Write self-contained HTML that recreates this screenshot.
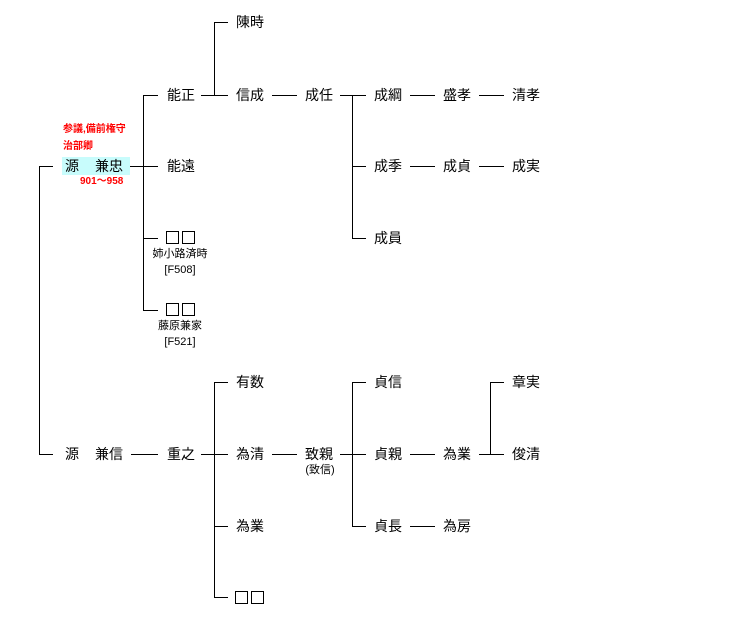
<!DOCTYPE html>
<html><head><meta charset="utf-8"><style>
body{margin:0;width:756px;height:637px;background:#fff;position:relative;overflow:hidden;font-family:"Liberation Sans","Noto Sans CJK JP",sans-serif;}
.t{position:absolute;font-size:14px;line-height:16px;white-space:nowrap;color:#000}
.s{position:absolute;font-size:11px;line-height:13px;white-space:nowrap;color:#000;text-align:center}
.r{position:absolute;font-size:10px;line-height:12px;white-space:nowrap;color:#f00;font-weight:bold}
.h{position:absolute;height:1px;background:#000}
.v{position:absolute;width:1px;background:#000}
.b{position:absolute;width:11px;height:11px;border:1px solid #000}
</style></head><body>
<div style="position:absolute;left:62px;top:157px;width:68px;height:18px;background:#c8fcfc"></div>
<div class="r" style="left:63px;top:124px">参議,備前権守</div>
<div class="r" style="left:63px;top:141px">治部卿</div>
<div class="r" style="left:80px;top:176px">901～958</div>
<div class="t" style="left:65px;top:158px">源</div><div class="t" style="left:95px;top:158px">兼忠</div>
<div class="t" style="left:65px;top:446px">源</div><div class="t" style="left:95px;top:446px">兼信</div>

<div class="t" style="left:236px;top:14px">陳時</div>
<div class="t" style="left:167px;top:87px">能正</div>
<div class="t" style="left:236px;top:87px">信成</div>
<div class="t" style="left:305px;top:87px">成任</div>
<div class="t" style="left:374px;top:87px">成綱</div>
<div class="t" style="left:443px;top:87px">盛孝</div>
<div class="t" style="left:512px;top:87px">清孝</div>
<div class="t" style="left:167px;top:158px">能遠</div>
<div class="t" style="left:374px;top:158px">成季</div>
<div class="t" style="left:443px;top:158px">成貞</div>
<div class="t" style="left:512px;top:158px">成実</div>
<div class="t" style="left:374px;top:230px">成員</div>
<div class="b" style="left:166px;top:231px"></div><div class="b" style="left:182px;top:231px"></div>
<div class="s" style="left:140px;top:248px;width:80px">姉小路済時</div>
<div class="s" style="left:140px;top:264px;width:80px">[F508]</div>
<div class="b" style="left:166px;top:303px"></div><div class="b" style="left:182px;top:303px"></div>
<div class="s" style="left:140px;top:320px;width:80px">藤原兼家</div>
<div class="s" style="left:140px;top:336px;width:80px">[F521]</div>

<div class="t" style="left:236px;top:374px">有数</div>
<div class="t" style="left:374px;top:374px">貞信</div>
<div class="t" style="left:512px;top:374px">章実</div>
<div class="t" style="left:167px;top:446px">重之</div>
<div class="t" style="left:236px;top:446px">為清</div>
<div class="t" style="left:305px;top:446px">致親</div>
<div class="s" style="left:295px;top:464px;width:50px">(致信)</div>
<div class="t" style="left:374px;top:446px">貞親</div>
<div class="t" style="left:443px;top:446px">為業</div>
<div class="t" style="left:512px;top:446px">俊清</div>
<div class="t" style="left:236px;top:518px">為業</div>
<div class="t" style="left:374px;top:518px">貞長</div>
<div class="t" style="left:443px;top:518px">為房</div>
<div class="b" style="left:235px;top:591px"></div><div class="b" style="left:251px;top:591px"></div>

<div class="v" style="left:39px;top:166px;height:289px"></div>
<div class="h" style="left:39px;top:166px;width:14px"></div>
<div class="h" style="left:39px;top:454px;width:14px"></div>

<div class="h" style="left:130px;top:166px;width:28px"></div>
<div class="v" style="left:143px;top:95px;height:216px"></div>
<div class="h" style="left:143px;top:95px;width:15px"></div>
<div class="h" style="left:143px;top:238px;width:15px"></div>
<div class="h" style="left:143px;top:310px;width:15px"></div>

<div class="h" style="left:201px;top:95px;width:27px"></div>
<div class="v" style="left:214px;top:22px;height:74px"></div>
<div class="h" style="left:214px;top:22px;width:14px"></div>
<div class="h" style="left:272px;top:95px;width:25px"></div>
<div class="h" style="left:340px;top:95px;width:26px"></div>
<div class="v" style="left:352px;top:95px;height:144px"></div>
<div class="h" style="left:352px;top:166px;width:14px"></div>
<div class="h" style="left:352px;top:238px;width:14px"></div>
<div class="h" style="left:410px;top:95px;width:25px"></div>
<div class="h" style="left:479px;top:95px;width:25px"></div>
<div class="h" style="left:410px;top:166px;width:25px"></div>
<div class="h" style="left:479px;top:166px;width:25px"></div>

<div class="h" style="left:131px;top:454px;width:27px"></div>
<div class="h" style="left:201px;top:454px;width:27px"></div>
<div class="v" style="left:214px;top:382px;height:216px"></div>
<div class="h" style="left:214px;top:382px;width:14px"></div>
<div class="h" style="left:214px;top:526px;width:14px"></div>
<div class="h" style="left:214px;top:597px;width:14px"></div>
<div class="h" style="left:272px;top:454px;width:25px"></div>
<div class="h" style="left:340px;top:454px;width:26px"></div>
<div class="v" style="left:352px;top:382px;height:145px"></div>
<div class="h" style="left:352px;top:382px;width:14px"></div>
<div class="h" style="left:352px;top:526px;width:14px"></div>
<div class="h" style="left:410px;top:454px;width:25px"></div>
<div class="h" style="left:410px;top:526px;width:25px"></div>
<div class="h" style="left:479px;top:454px;width:25px"></div>
<div class="v" style="left:490px;top:382px;height:73px"></div>
<div class="h" style="left:490px;top:382px;width:14px"></div>
</body></html>
